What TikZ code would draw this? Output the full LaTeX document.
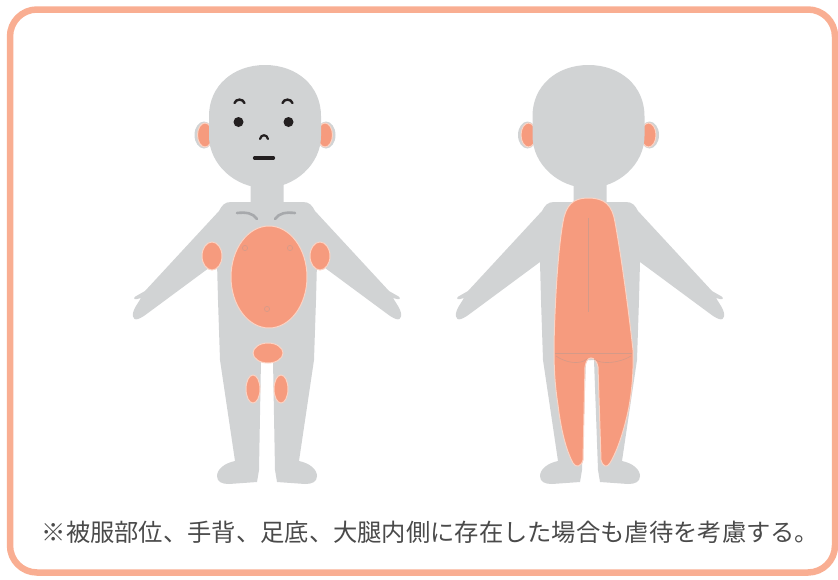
\documentclass[tikz,border=0pt]{standalone}
\usepackage{fontspec}
\newfontfamily\jpfont{Noto Sans CJK JP}

\definecolor{skin}{HTML}{D1D3D4}
\definecolor{mark}{HTML}{F69B7E}
\definecolor{markedge}{HTML}{FBD3C4}
\definecolor{frame}{HTML}{F9AE92}
\definecolor{ink}{HTML}{231F20}
\definecolor{crease}{HTML}{A7A9AC}
\definecolor{seam}{HTML}{D49A88}
\definecolor{txt}{HTML}{4A4A4A}

\tikzset{
  markfill/.style={fill=mark, draw=markedge, line width=1pt},
  feature/.style={draw=ink, line width=2.4pt, line cap=round},
  collar/.style={draw=crease, line width=2.6pt, line cap=round},
  seamline/.style={draw=seam, line width=0.6pt},
}

% left half of a figure's body (neck, shoulder, arm, torso, leg, foot);
% #1 = half width of the gap between the legs at the crotch
\newcommand{\halfbody}[1]{%
  \fill[skin] (1,180) -- (-16.5,180) -- (-16.5,202) -- (-36,202)
    .. controls (-42,202) and (-45,205) .. (-48,211)
    -- (-122,291) -- (-129,295)
    .. controls (-134,297) and (-134,300) .. (-130,299)
    -- (-126,298) -- (-131,306)
    .. controls (-136,314) and (-135,321) .. (-129,319)
    .. controls (-126,318) and (-123,316) .. (-119,313)
    -- (-50,262) -- (-49,300) -- (-47,360) -- (-32,461)
    .. controls (-42,463) and (-50,469) .. (-50,476)
    .. controls (-50,482) and (-45,484) .. (-38,484)
    -- (-10,482) -- (-8,470) -- (-#1,360) -- (1,360) -- cycle;
}

% head with both ears, centred on x = 0
\newcommand{\headwithears}{%
  \fill[skin] (-61,135) ellipse[x radius=9.5, y radius=13.5];
  \fill[skin] (61,135) ellipse[x radius=9.5, y radius=13.5];
  \path[markfill] (-60,135) ellipse[x radius=7.5, y radius=12];
  \path[markfill] (60,135) ellipse[x radius=7.5, y radius=12];
  \fill[skin] (0,65) .. controls (32,65) and (56,86) .. (56,116)
    -- (56,136) .. controls (56,164) and (30,188) .. (0,188)
    .. controls (-30,188) and (-56,164) .. (-56,136)
    -- (-56,116) .. controls (-56,86) and (-32,65) .. (0,65) -- cycle;
}

\begin{document}
\begin{tikzpicture}[x=1pt, y=-1pt]
  \useasboundingbox (0,0) rectangle (838,579);

  % frame
  \draw[frame, line width=6.5pt, rounded corners=27pt] (10,9.5) rectangle (835,572.5);

  % ---------- front view ----------
  \begin{scope}[shift={(267,0)}]
    \halfbody{6}
    \begin{scope}[xscale=-1]\halfbody{6}\end{scope}
  \end{scope}
  \begin{scope}[shift={(265,0)}]
    \headwithears
  \end{scope}

  % face
  \draw[feature] (234.5,103) .. controls (236,98.5) and (243,98.5) .. (244.5,103);
  \draw[feature] (282.5,103) .. controls (284,98.5) and (291,98.5) .. (292.5,103);
  \fill[ink] (238.5,122) circle[radius=5];
  \fill[ink] (288.5,122) circle[radius=5];
  \draw[feature, line width=2.2pt] (260,139) .. controls (261,134) and (267,134) .. (268,139);
  \draw[feature, line width=3.2pt] (254.5,158) -- (273.5,158);

  % collarbones
  \draw[collar] (237,213) .. controls (246,212) and (253,213) .. (257,219);
  \draw[collar] (295,213) .. controls (286,212) and (279,213) .. (275,219);

  % marked areas, front
  \path[markfill] (269,277) ellipse[x radius=38, y radius=51];
  \path[markfill] (212,256) ellipse[x radius=10, y radius=14];
  \path[markfill] (320,256) ellipse[x radius=10, y radius=14];
  \path[markfill] (268,353) ellipse[x radius=15, y radius=10];
  \path[markfill] (253,389) ellipse[x radius=7, y radius=14];
  \path[markfill] (281,389) ellipse[x radius=7, y radius=14];
  \draw[seamline] (245,248) circle[radius=2.6];
  \draw[seamline] (290,248) circle[radius=2.6];
  \draw[seamline] (267,309) circle[radius=2.6];

  % ---------- back view ----------
  \begin{scope}[shift={(590,0)}]
    \halfbody{4}
    \begin{scope}[xscale=-1]\halfbody{4}\end{scope}
  \end{scope}
  \begin{scope}[shift={(588.5,0)}]
    \headwithears
  \end{scope}

  % marked area, back (back, buttocks and backs of the legs)
  \path[markfill] (588,198)
    .. controls (605,198) and (612,205) .. (615,222)
    .. controls (621,255) and (628,305) .. (633,350)
    .. controls (634,380) and (630,405) .. (626,420)
    .. controls (621,440) and (615,455) .. (610,463)
    .. controls (607,468) and (603,467) .. (601,460)
    -- (598,367)
    .. controls (597,361) and (594,358) .. (591,358)
    .. controls (588,358) and (586,361) .. (585,367)
    -- (583,460)
    .. controls (581,467) and (576,468) .. (573,463)
    .. controls (566,450) and (561,430) .. (558,405)
    .. controls (554,380) and (554,360) .. (554,345)
    .. controls (555,300) and (558,250) .. (563,222)
    .. controls (566,205) and (573,198) .. (588,198) -- cycle;
  \draw[seamline] (588,218) -- (588,312);
  \draw[seamline] (555,353.5) -- (632,353.5);
  \draw[seamline] (556,356) .. controls (566,363) and (580,365) .. (587,359);
  \draw[seamline] (594,359) .. controls (601,365) and (620,363) .. (631,356);

  % note
  \node[anchor=west, inner sep=0pt, text=txt,
        font=\jpfont\fontsize{24.3}{28}\selectfont] (note) at (41.5,532)
    {※被服部位、手背、足底、大腿内側に存在した場合も虐待を考慮する。};
\end{tikzpicture}
\end{document}
